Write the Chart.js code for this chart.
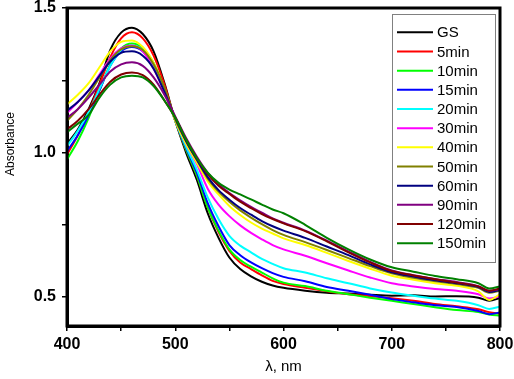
<!DOCTYPE html>
<html><head><meta charset="utf-8">
<script src="https://cdn.jsdelivr.net/npm/chart.js@4/dist/chart.umd.min.js"></script>
<style>html,body{margin:0;padding:0;background:#fff;overflow:hidden}</style>
</head><body>
<canvas id="c" width="514" height="379"></canvas>
<script>
// ---- data ----
const wavelengths = [400,410,420,430,440,450,460,470,480,490,500,510,520,530,540,550,560,570,580,590,600,620,640,660,680,700,720,740,760,780,790,800];
const seriesLabels = ['GS','5min','10min','15min','20min','30min','40min','50min','60min','90min','120min','150min'];
const seriesColors = ['#000000','#ff0000','#00ff00','#0000ff','#00ffff','#ff00ff','#ffff00','#808000','#000080','#800080','#800000','#008000'];

const absGS     = [1.03,1.08,1.15,1.24,1.355,1.415,1.432,1.41,1.35,1.24,1.11, 1.0,0.905,0.79,0.705,0.637,0.597,0.572,0.553,0.54,0.532, 0.522,0.515,0.512,0.508,0.505,0.506,0.502,0.503,0.498,0.487,0.497];
const abs5min   = [0.993,1.06,1.14,1.235,1.33,1.395,1.416,1.395,1.335,1.235,1.11, 1.01,0.92,0.81,0.725,0.66,0.62,0.597,0.575,0.556,0.545, 0.532,0.52,0.51,0.503,0.496,0.487,0.476,0.468,0.458,0.448,0.443];
const abs10min  = [0.976,1.04,1.12,1.215,1.305,1.36,1.377,1.36,1.31,1.22,1.11, 1.01,0.92,0.81,0.73,0.665,0.628,0.605,0.585,0.565,0.55, 0.538,0.522,0.51,0.498,0.487,0.476,0.465,0.455,0.448,0.44,0.436];
const abs15min  = [1.005,1.06,1.13,1.215,1.3,1.35,1.365,1.35,1.3,1.215,1.11, 1.015,0.93,0.825,0.745,0.68,0.645,0.62,0.60,0.583,0.57, 0.555,0.535,0.522,0.508,0.493,0.482,0.472,0.466,0.452,0.441,0.447];
const abs20min  = [1.022,1.075,1.14,1.22,1.3,1.355,1.37,1.355,1.3,1.215,1.11, 1.02,0.94,0.845,0.77,0.712,0.678,0.655,0.632,0.615,0.60, 0.585,0.565,0.548,0.53,0.516,0.505,0.495,0.487,0.472,0.459,0.467];
const abs30min  = [1.137,1.175,1.215,1.27,1.325,1.36,1.37,1.35,1.29,1.21,1.115, 1.03,0.96,0.875,0.82,0.78,0.748,0.722,0.70,0.68,0.665, 0.643,0.617,0.592,0.568,0.548,0.537,0.528,0.522,0.51,0.495,0.502];
const abs40min  = [1.166,1.2,1.24,1.295,1.35,1.383,1.388,1.365,1.31,1.22,1.11, 1.03,0.965,0.9,0.855,0.815,0.784,0.758,0.737,0.72,0.703, 0.68,0.653,0.625,0.598,0.574,0.56,0.548,0.539,0.52,0.49,0.51];
const abs50min  = [1.11,1.15,1.2,1.26,1.32,1.357,1.368,1.355,1.305,1.225,1.115, 1.04,0.975,0.91,0.865,0.83,0.8,0.775,0.752,0.732,0.715, 0.69,0.663,0.635,0.607,0.582,0.567,0.555,0.545,0.532,0.515,0.522];
const abs60min  = [1.145,1.175,1.215,1.265,1.315,1.345,1.35,1.335,1.29,1.21,1.12, 1.04,0.975,0.915,0.87,0.837,0.808,0.785,0.763,0.745,0.73, 0.705,0.675,0.645,0.613,0.586,0.571,0.558,0.548,0.535,0.518,0.525];
const abs90min  = [1.12,1.15,1.19,1.235,1.28,1.305,1.312,1.3,1.26,1.2,1.125, 1.05,0.985,0.93,0.89,0.86,0.835,0.812,0.792,0.772,0.757, 0.73,0.695,0.658,0.622,0.592,0.576,0.563,0.552,0.538,0.522,0.528];
const abs120min = [1.08,1.11,1.15,1.2,1.245,1.27,1.277,1.268,1.235,1.18,1.12, 1.045,0.98,0.925,0.885,0.857,0.83,0.808,0.787,0.77,0.755, 0.728,0.693,0.655,0.62,0.59,0.575,0.562,0.55,0.537,0.522,0.53];
const abs150min = [1.07,1.1,1.13,1.19,1.235,1.26,1.266,1.26,1.23,1.18,1.12, 1.045,0.98,0.93,0.895,0.872,0.855,0.838,0.82,0.803,0.79, 0.75,0.705,0.665,0.63,0.603,0.588,0.573,0.562,0.548,0.53,0.537];

const xTickValues = [400,450,500,550,600,650,700,750,800];
const xTickLabels = ['400','','500','','600','','700','','800'];
const yTickValues = [0.5,0.75,1.0,1.25,1.5];
const yTickLabels = ['0.5','','1.0','','1.5'];
const xTitle = 'λ, nm';
const yTitle = 'Absorbance';

const seriesValues = [absGS,abs5min,abs10min,abs15min,abs20min,abs30min,abs40min,abs50min,abs60min,abs90min,abs120min,abs150min];

// ---- chart ----
const datasets = seriesValues.map((vals, i) => ({
  label: seriesLabels[i],
  data: vals.map((v, k) => ({x: wavelengths[k], y: v})),
  borderColor: seriesColors[i],
  backgroundColor: seriesColors[i],
  borderWidth: 2,
  pointRadius: 0,
  cubicInterpolationMode: 'monotone',
  order: seriesValues.length - i
}));

const FONT = "'Liberation Sans', Arial, sans-serif";

const framePlugin = {
  id: 'frame',
  afterDatasetsDraw(chart) {
    const {ctx, chartArea: a} = chart;
    ctx.save();
    ctx.strokeStyle = '#000';
    ctx.lineWidth = 3;
    ctx.strokeRect(a.left, a.top, a.right - a.left, a.bottom - a.top);
    ctx.restore();
  },
  afterDraw(chart) {
    const ctx = chart.ctx;
    // y axis title
    ctx.save();
    ctx.fillStyle = '#000';
    ctx.font = '12px ' + FONT;
    ctx.translate(11, 144);
    ctx.rotate(-Math.PI / 2);
    ctx.textAlign = 'center';
    ctx.textBaseline = 'middle';
    ctx.fillText(yTitle, 0, 0);
    ctx.restore();
    // legend box
    const bx = 392, by = 14, bw = 103, bh = 248;
    ctx.save();
    ctx.fillStyle = '#fff';
    ctx.fillRect(bx, by, bw, bh);
    ctx.strokeStyle = '#808080';
    ctx.lineWidth = 1;
    ctx.strokeRect(bx + 0.5, by + 0.5, bw, bh);
    ctx.font = '15px ' + FONT;
    ctx.textBaseline = 'middle';
    ctx.textAlign = 'left';
    chart.data.datasets.forEach((ds, i) => {
      const y = 32.3 + i * 19.17;
      ctx.strokeStyle = ds.borderColor;
      ctx.lineWidth = 2;
      ctx.beginPath();
      ctx.moveTo(397, y);
      ctx.lineTo(433, y);
      ctx.stroke();
      ctx.fillStyle = '#000';
      ctx.fillText(ds.label, 437, y + 1);
    });
    ctx.restore();
  }
};

new Chart(document.getElementById('c'), {
  type: 'line',
  data: {datasets},
  options: {
    responsive: false,
    animation: false,
    devicePixelRatio: 1,
    layout: {padding: {top: 8, right: 14, left: 0, bottom: 0}},
    plugins: {legend: {display: false}, tooltip: {enabled: false}},
    scales: {
      x: {
        type: 'linear', min: 400, max: 800,
        afterBuildTicks: s => { s.ticks = xTickValues.map(v => ({value: v})); },
        afterFit: s => { s.height = 53; s.paddingLeft = 0; s.paddingRight = 0; },
        ticks: {
          callback: (v) => xTickLabels[xTickValues.indexOf(v)] ?? '',
          autoSkip: false, maxRotation: 0, padding: 4,
          color: '#000', font: {family: FONT, size: 16, weight: 'bold'}
        },
        grid: {drawOnChartArea: false, drawTicks: true, tickLength: 5, color: '#000', lineWidth: 1.5},
        border: {display: true, color: '#000', width: 3},
        title: {display: true, text: xTitle, color: '#000', font: {family: FONT, size: 15}, padding: {top: 0, bottom: 3}}
      },
      y: {
        type: 'linear', min: 0.4, max: 1.5,
        afterBuildTicks: s => { s.ticks = yTickValues.map(v => ({value: v})); },
        afterFit: s => { s.width = 67; s.paddingTop = 0; s.paddingBottom = 0; },
        ticks: {
          callback: (v) => yTickLabels[yTickValues.indexOf(v)] ?? '',
          autoSkip: false, padding: 6,
          color: '#000', font: {family: FONT, size: 16, weight: 'bold'}
        },
        grid: {drawOnChartArea: false, drawTicks: true, tickLength: 5, color: '#000', lineWidth: 1.5},
        border: {display: true, color: '#000', width: 3}
      }
    }
  },
  plugins: [framePlugin]
});
</script>
</body></html>
